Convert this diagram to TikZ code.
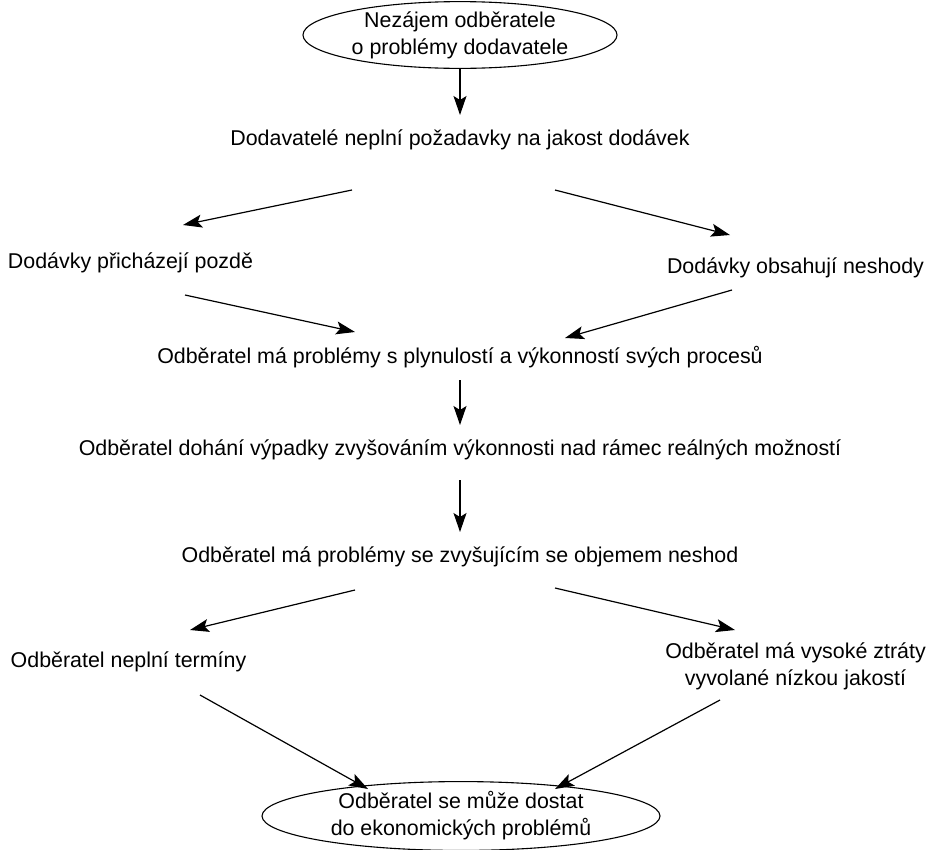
\documentclass[tikz,border=0pt]{standalone}
\usepackage{fontspec}
\setmainfont{Liberation Sans}
\usetikzlibrary{shapes.geometric,arrows.meta}
\begin{document}
\begin{tikzpicture}[x=1pt,y=-1pt,
  lbl/.style={font=\fontsize{21.4}{27}\selectfont, inner sep=0pt, align=center},
  oval/.style={lbl, draw, ellipse, line width=1.1pt, inner sep=0pt},
  flow/.style={-{Stealth[length=19pt,width=13pt,inset=4pt]}, line width=1.2pt}]
\useasboundingbox (0,0) rectangle (928,849);

% boxes of the chain
\node[oval, minimum width=314, minimum height=66] (top) at (460,35)
  {Nezájem odběratele\\o problémy dodavatele};
\node[lbl] (n1) at (460,140) {Dodavatelé neplní požadavky na jakost dodávek};
\node[lbl] (l1) at (130.5,263) {Dodávky přicházejí pozdě};
\node[lbl] (r1) at (795.5,268) {Dodávky obsahují neshody};
\node[lbl] (n2) at (460,357) {Odběratel má problémy s plynulostí a výkonností svých procesů};
\node[lbl] (n3) at (460,450) {Odběratel dohání výpadky zvyšováním výkonnosti nad rámec reálných možností};
\node[lbl] (n4) at (460,557) {Odběratel má problémy se zvyšujícím se objemem neshod};
\node[lbl] (l2) at (128.5,662) {Odběratel neplní termíny};
\node[lbl] (r2) at (795.5,666) {Odběratel má vysoké ztráty\\vyvolané nízkou jakostí};
\node[oval, minimum width=398, minimum height=64] (bot) at (461,816)
  {Odběratel se může dostat\\do ekonomických problémů};

% connectors
\draw[flow] (top.south) -- ([shift={(0,-25)}]n1.center);
\draw[flow] ([shift={(-108,50)}]n1.center) -- ([shift={(52.5,-38)}]l1.center);
\draw[flow] ([shift={(95,50)}]n1.center) -- ([shift={(-65.5,-33)}]r1.center);
\draw[flow] ([shift={(54.5,32)}]l1.center) -- ([shift={(-105,-25)}]n2.center);
\draw[flow] ([shift={(-63.5,22)}]r1.center) -- ([shift={(105,-19)}]n2.center);
\draw[flow] ([shift={(0,23)}]n2.center) -- ([shift={(0,-25)}]n3.center);
\draw[flow] ([shift={(0,30)}]n3.center) -- ([shift={(0,-25)}]n4.center);
\draw[flow] ([shift={(-105,33)}]n4.center) -- ([shift={(61.5,-32)}]l2.center);
\draw[flow] ([shift={(95,31)}]n4.center) -- ([shift={(-60.5,-36)}]r2.center);
\draw[flow] ([shift={(71.5,33)}]l2.center) -- ([shift={(-93,-27)}]bot.center);
\draw[flow] ([shift={(-75.5,34)}]r2.center) -- ([shift={(94,-27)}]bot.center);
\end{tikzpicture}
\end{document}
